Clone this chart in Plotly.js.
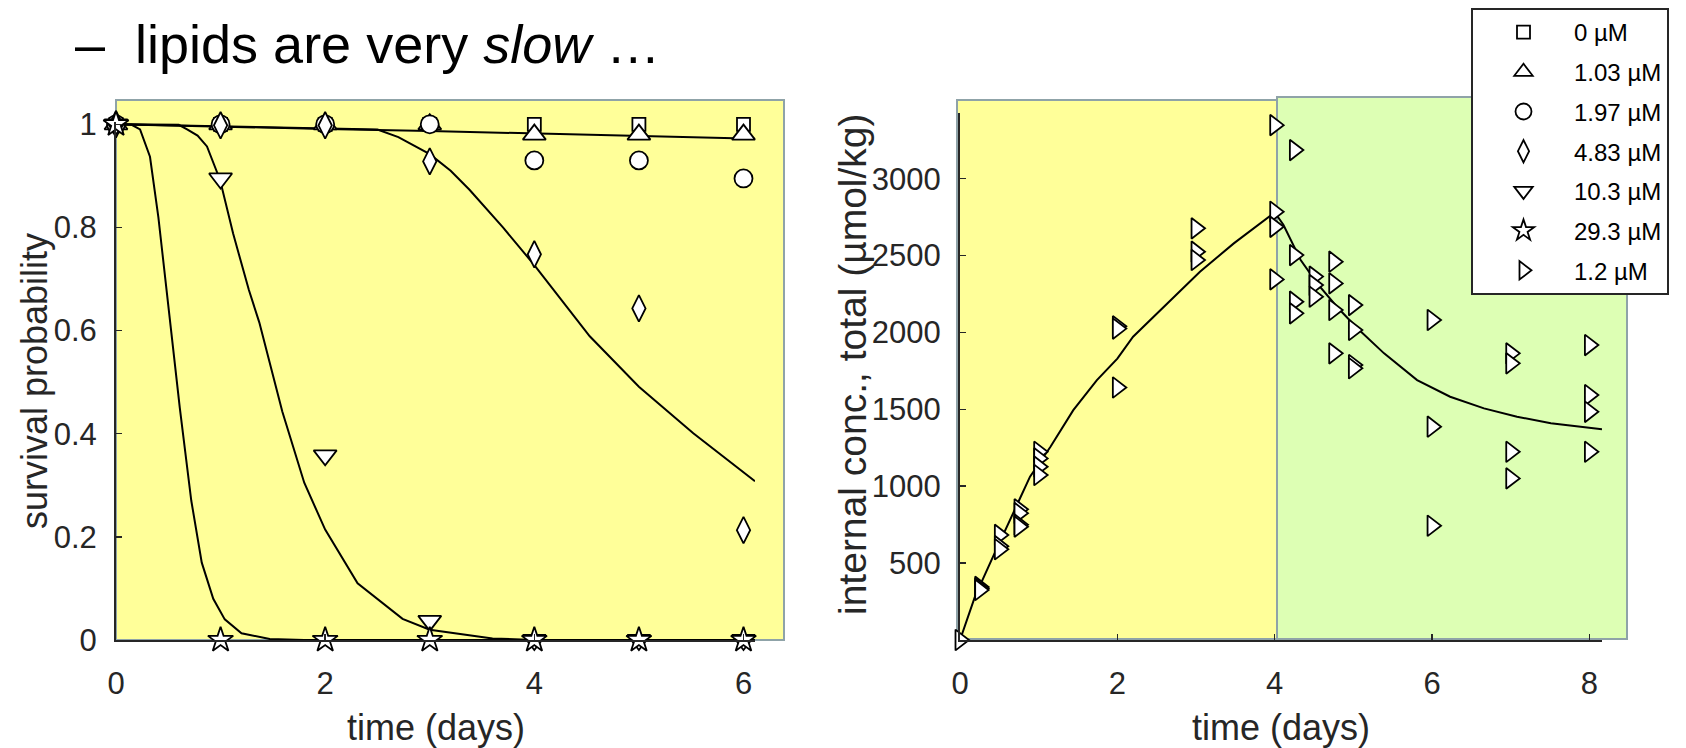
<!DOCTYPE html>
<html>
<head>
<meta charset="utf-8">
<script src="https://cdn.plot.ly/plotly-3.0.1.min.js"></script>
<style>html,body{margin:0;padding:0;background:#fff;}#chart{width:1686px;height:748px;}</style>
</head>
<body>
<div id="chart"></div>
<script>
// ---------- data: survival (left panel) ----------
const days = [0, 1, 2, 3, 4, 5, 6];
const surv_0 = [1, 1, 1, 1, 1, 1, 1];
const surv_103 = [1, 1, 1, 1, 0.98, 0.98, 0.98];
const surv_197 = [1, 1, 1, 1, 0.93, 0.93, 0.895];
const surv_483 = [1, 0.998, 0.998, 0.928, 0.748, 0.643, 0.213];
const surv_1030 = [1, 0.895, 0.358, 0.037, 0, 0, 0];
const surv_2930 = [1, 0, 0, 0, 0, 0, 0];

// fitted curves
const fitCtrl_x = [0, 1, 2, 3, 4, 5, 6.11];
const fitCtrl_y = [1.0, 0.995, 0.991, 0.987, 0.982, 0.977, 0.972];
const fit483_x = [0, 1, 2, 2.5, 2.7, 3.0, 3.2, 3.38, 3.7, 4.0, 4.53, 5.0, 5.52, 6.11];
const fit483_y = [1.0, 0.996, 0.993, 0.99, 0.975, 0.942, 0.91, 0.873, 0.80, 0.727, 0.589, 0.491, 0.401, 0.308];
const fit1030_x = [0, 0.6, 0.68, 0.78, 0.87, 0.995, 1.12, 1.27, 1.37, 1.59, 1.80, 2.0, 2.31, 2.74, 3.0, 3.6, 4.0, 6.11];
const fit1030_y = [1.0, 0.999, 0.99, 0.978, 0.957, 0.892, 0.788, 0.679, 0.616, 0.443, 0.305, 0.214, 0.11, 0.041, 0.02, 0.003, 0, 0];
const fit2930_x = [0, 0.15, 0.23, 0.325, 0.405, 0.469, 0.5, 0.61, 0.72, 0.82, 0.93, 1.04, 1.2, 1.47, 1.8, 6.11];
const fit2930_y = [1.0, 0.999, 0.99, 0.937, 0.82, 0.703, 0.651, 0.45, 0.27, 0.15, 0.08, 0.04, 0.013, 0.002, 0, 0];

// ---------- data: internal concentration (right panel) ----------
const conc_t = [0, 0.25, 0.25, 0.25, 0.5, 0.5, 0.5, 0.75, 0.75, 0.75, 0.75, 1, 1, 1, 1,
  2, 2, 2, 3, 3, 3, 4, 4, 4, 4, 4.25, 4.25, 4.25, 4.25, 4.5, 4.5, 4.5,
  4.75, 4.75, 4.75, 4.75, 5, 5, 5, 5, 6, 6, 6, 7, 7, 7, 7, 8, 8, 8, 8];
const conc_v = [0, 345, 335, 325, 683, 610, 590, 850, 825, 750, 737, 1224, 1181, 1127, 1073,
  2040, 2025, 1642, 2677, 2525, 2471, 3348, 2785, 2687, 2345, 3186, 2503, 2200, 2124, 2363, 2308, 2232,
  2460, 2319, 2146, 1864, 2178, 2016, 1788, 1767, 2081, 1387, 743, 1864, 1799, 1224, 1051, 1918, 1593, 1484, 1224];
const fitConc_x = [0, 0.19, 0.42, 0.66, 0.89, 1.15, 1.44, 1.74, 2.0, 2.2, 2.63, 3.05, 3.48, 3.94, 4.0,
  4.11, 4.33, 4.54, 4.79, 5.05, 5.39, 5.81, 6.23, 6.66, 7.08, 7.51, 7.93, 8.16];
const fitConc_y = [0, 282, 542, 802, 1062, 1257, 1495, 1690, 1830, 1972, 2189, 2395, 2579, 2757, 2780,
  2700, 2471, 2319, 2167, 2027, 1864, 1690, 1582, 1506, 1452, 1409, 1381, 1370];

const legendNames = ['0 µM', '1.03 µM', '1.97 µM', '4.83 µM', '10.3 µM', '29.3 µM', '1.2 µM'];
const xTicksLeft = [0, 2, 4, 6];
const yTicksLeft = [0, 0.2, 0.4, 0.6, 0.8, 1];
const xTicksRight = [0, 2, 4, 6, 8];
const yTicksRight = [500, 1000, 1500, 2000, 2500, 3000];

// ---------- layout helpers ----------
const W = 1686, H = 748;
const px = v => v / W;
const py = v => 1 - v / H;
const FONT = 'Liberation Sans, Arial, Helvetica, sans-serif';
const INK = '#262626';

function curve(x, y, xa, ya) {
  return {x: x, y: y, xaxis: xa, yaxis: ya, mode: 'lines', type: 'scatter',
    line: {color: '#000', width: 2}, showlegend: false, hoverinfo: 'skip', cliponaxis: false};
}
function pts(x, y, sym, size, name, grp, xa, ya) {
  return {x: x, y: y, xaxis: xa, yaxis: ya, mode: 'markers', type: 'scatter', name: name,
    legendgroup: grp, cliponaxis: false,
    marker: {symbol: sym, size: size, color: '#fff', line: {color: '#000', width: 1.8}}};
}

const traces = [
  curve(fitCtrl_x, fitCtrl_y, 'x', 'y'),
  curve(fit483_x, fit483_y, 'x', 'y'),
  curve(fit1030_x, fit1030_y, 'x', 'y'),
  curve(fit2930_x, fit2930_y, 'x', 'y'),
  curve(fitConc_x, fitConc_y, 'x2', 'y2'),
  pts(days, surv_0, 'square', 13, legendNames[0], 'g0', 'x', 'y'),
  pts(days, surv_103, 'triangle-up', 20, legendNames[1], 'g1', 'x', 'y'),
  pts(days, surv_197, 'circle', 18, legendNames[2], 'g2', 'x', 'y'),
  pts(days, surv_483, 'diamond-tall', 19, legendNames[3], 'g3', 'x', 'y'),
  pts(days, surv_1030, 'triangle-down', 20, legendNames[4], 'g4', 'x', 'y'),
  pts(days, surv_2930, 'star', 19, legendNames[5], 'g5', 'x', 'y'),
  pts(conc_t, conc_v, 'triangle-right', 18, legendNames[6], 'g6', 'x2', 'y2')
];

const axBase = {
  showline: true, linecolor: INK, linewidth: 2, showgrid: false, zeroline: false,
  ticks: 'inside', ticklen: 6, tickwidth: 1.5, tickcolor: INK,
  tickfont: {family: FONT, size: 31, color: INK}, fixedrange: true
};

const layout = {
  width: W, height: H,
  margin: {l: 0, r: 0, t: 0, b: 0},
  paper_bgcolor: '#fff', plot_bgcolor: 'rgba(0,0,0,0)',
  font: {family: FONT, color: INK},
  xaxis: Object.assign({}, axBase, {domain: [px(116), px(755)], range: [0, 6.11], tickvals: xTicksLeft, anchor: 'y', ticklabelstandoff: 15}),
  yaxis: Object.assign({}, axBase, {domain: [py(640), py(121.7)], range: [0, 1.005], tickvals: yTicksLeft, anchor: 'x', ticklabelstandoff: 11}),
  xaxis2: Object.assign({}, axBase, {domain: [px(960), px(1602)], range: [0, 8.16], tickvals: xTicksRight, anchor: 'y2', ticklabelstandoff: 15}),
  yaxis2: Object.assign({}, axBase, {domain: [py(640), py(113)], range: [0, 3427], tickvals: yTicksRight, anchor: 'x2', ticklabelstandoff: 11}),
  shapes: [
    {type: 'rect', xref: 'paper', yref: 'paper', layer: 'below', x0: px(116), x1: px(784), y0: py(640), y1: py(100),
      fillcolor: '#ffff99', line: {color: '#8fa3a8', width: 2}},
    {type: 'rect', xref: 'paper', yref: 'paper', layer: 'below', x0: px(957), x1: px(1277), y0: py(639), y1: py(100),
      fillcolor: '#ffff99', line: {color: '#8fa3a8', width: 2}},
    {type: 'rect', xref: 'paper', yref: 'paper', layer: 'below', x0: px(1277), x1: px(1627), y0: py(639), y1: py(97),
      fillcolor: '#ddffb4', line: {color: '#8fa3a8', width: 2}}
  ],
  annotations: [
    {text: '–\u00a0\u00a0lipids are very <i>slow</i> …', xref: 'paper', yref: 'paper', x: px(73), y: py(44),
      xanchor: 'left', yanchor: 'middle', showarrow: false, font: {family: FONT, size: 54, color: '#000'}},
    {text: 'time (days)', xref: 'x domain', yref: 'paper', x: 0.5, y: py(727), xanchor: 'center', yanchor: 'middle',
      showarrow: false, font: {family: FONT, size: 36, color: INK}},
    {text: 'time (days)', xref: 'x2 domain', yref: 'paper', x: 0.5, y: py(727), xanchor: 'center', yanchor: 'middle',
      showarrow: false, font: {family: FONT, size: 36, color: INK}},
    {text: 'survival probability', xref: 'paper', yref: 'paper', x: px(34), y: py(381), xanchor: 'center', yanchor: 'middle',
      textangle: -90, showarrow: false, font: {family: FONT, size: 36, color: INK}},
    {text: 'internal conc., total (µmol/kg)', xref: 'paper', yref: 'paper', x: px(853), y: py(364), xanchor: 'center', yanchor: 'middle',
      textangle: -90, showarrow: false, font: {family: FONT, size: 39, color: INK}}
  ],
  showlegend: true,
  legend: {x: px(1471), y: py(8), xanchor: 'left', yanchor: 'top', bgcolor: '#fff', bordercolor: INK, borderwidth: 2,
    font: {family: FONT, size: 24, color: '#000'}, itemwidth: 91, tracegroupgap: 5.5, traceorder: 'grouped',
    entrywidth: 102, entrywidthmode: 'pixels'}
};

Plotly.newPlot('chart', traces, layout, {displayModeBar: false, staticPlot: true});
</script>
</body>
</html>
